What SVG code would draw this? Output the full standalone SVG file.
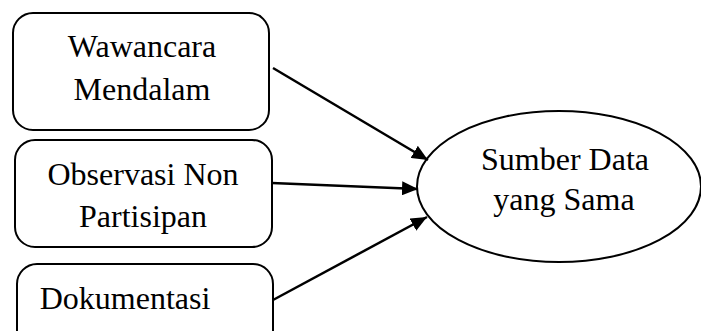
<svg xmlns="http://www.w3.org/2000/svg" width="701" height="331" viewBox="0 0 701 331">
<defs>
<style>
.box{fill:#fff;stroke:#000;stroke-width:2}
.lbl{font-family:"Liberation Serif","Times New Roman",serif;font-size:32px;fill:#000;text-anchor:middle}
.conn{stroke:#000;stroke-width:2.5;fill:none}
</style>
<marker id="ah" markerUnits="userSpaceOnUse" markerWidth="16" markerHeight="14" refX="16" refY="7" orient="auto">
<path d="M0,0 L16,7 L0,14 Z" fill="#000"/>
</marker>
</defs>
<rect width="701" height="331" fill="#fff"/>
<g id="node-wawancara">
<rect class="box" x="13" y="13" width="256" height="117" rx="20"/>
<text class="lbl" x="142" y="57">Wawancara</text>
<text class="lbl" x="142" y="100">Mendalam</text>
</g>
<g id="node-observasi">
<rect class="box" x="15" y="140" width="257" height="107" rx="20"/>
<text class="lbl" x="143" y="185">Observasi Non</text>
<text class="lbl" x="143" y="227">Partisipan</text>
</g>
<g id="node-dokumentasi">
<rect class="box" x="17" y="264" width="256" height="90" rx="20"/>
<text class="lbl" x="125" y="309">Dokumentasi</text>
</g>
<g id="node-sumber">
<ellipse class="box" cx="559" cy="186.5" rx="142" ry="75.5"/>
<text class="lbl" x="565" y="170">Sumber Data</text>
<text class="lbl" x="564" y="210">yang Sama</text>
</g>
<g id="connectors">
<line class="conn" x1="273" y1="68" x2="428" y2="160" marker-end="url(#ah)"/>
<line class="conn" x1="272" y1="183" x2="418" y2="189" marker-end="url(#ah)"/>
<line class="conn" x1="273" y1="300" x2="427" y2="217" marker-end="url(#ah)"/>
</g>
</svg>
